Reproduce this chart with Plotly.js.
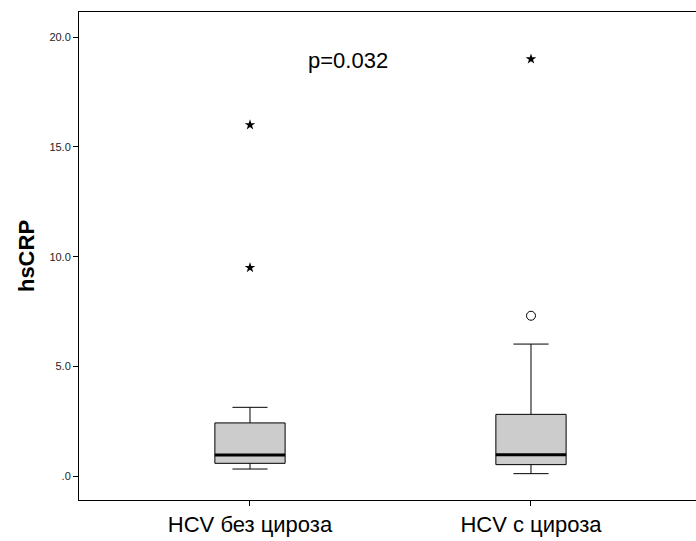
<!DOCTYPE html>
<html>
<head>
<meta charset="utf-8">
<script src="https://cdn.plot.ly/plotly-3.0.1.min.js"></script>
<style>
  html, body { margin: 0; padding: 0; background: #ffffff; }
  #chart { width: 696px; height: 541px; }
</style>
</head>
<body>
<div id="chart"></div>
<script>
// hsCRP by group: box summaries, extreme values (stars) and outliers (circles)
const groups = ["HCV без цироза", "HCV с цироза"];
const lowerWhisker = [0.33, 0.12];
const q1 = [0.59, 0.53];
const median = [0.97, 0.98];
const q3 = [2.43, 2.82];
const upperWhisker = [3.14, 6.02];
const extremeGroup = [0, 0, 1];
const extremeValues = [16.0, 9.5, 19.0];
const outlierGroup = [1];
const outlierValues = [7.31];
const yTickVals = [0, 5, 10, 15, 20];
const yTickText = [".0", "5.0", "10.0", "15.0", "20.0"];
const pLabel = "p=0.032";

const boxWidth = 0.25;
const traces = [];

groups.forEach((g, i) => {
  traces.push({
    type: "box",
    x: [i],
    q1: [q1[i]],
    median: [median[i]],
    q3: [q3[i]],
    lowerfence: [lowerWhisker[i]],
    upperfence: [upperWhisker[i]],
    width: boxWidth,
    whiskerwidth: 0.5,
    boxpoints: false,
    fillcolor: "#cccccc",
    line: { color: "#000000", width: 1 },
    hoverinfo: "skip",
    showlegend: false
  });
  // heavier median bar across the box
  traces.push({
    type: "scatter",
    mode: "lines",
    x: [i - boxWidth / 2, i + boxWidth / 2],
    y: [median[i], median[i]],
    line: { color: "#000000", width: 3 },
    hoverinfo: "skip",
    showlegend: false
  });
});

traces.push({
  type: "scatter",
  mode: "markers",
  x: extremeGroup,
  y: extremeValues,
  marker: { symbol: "star", size: 8, color: "#000000", line: { width: 0 } },
  hoverinfo: "y",
  showlegend: false
});

traces.push({
  type: "scatter",
  mode: "markers",
  x: outlierGroup,
  y: outlierValues,
  marker: { symbol: "circle-open", size: 9, color: "#000000", line: { width: 1, color: "#000000" } },
  hoverinfo: "y",
  showlegend: false
});

const layout = {
  width: 696,
  height: 541,
  margin: { l: 79, r: 0, t: 12, b: 41, pad: 0 },
  paper_bgcolor: "#ffffff",
  plot_bgcolor: "#ffffff",
  boxmode: "overlay",
  showlegend: false,
  font: { family: "Liberation Sans, Arial, sans-serif", color: "#000000" },
  xaxis: {
    range: [-0.6085, 1.5872],
    tickvals: groups.map((g, i) => i),
    ticktext: groups,
    ticks: "outside",
    ticklen: 5,
    tickcolor: "#000000",
    tickfont: { size: 22, color: "#000000" },
    showgrid: false,
    zeroline: false,
    showline: true,
    linecolor: "#000000",
    linewidth: 1,
    mirror: true
  },
  yaxis: {
    range: [-1.08, 21.14],
    tickvals: yTickVals,
    ticktext: yTickText,
    ticks: "outside",
    ticklen: 5,
    tickcolor: "#000000",
    tickfont: { size: 11, color: "#222222" },
    showgrid: false,
    zeroline: false,
    showline: true,
    linecolor: "#000000",
    linewidth: 1,
    title: { text: "<b>hsCRP</b>", font: { size: 22, color: "#000000" }, standoff: 8 }
  },
  annotations: [{
    x: 0.3505,
    y: 18.93,
    xref: "x",
    yref: "y",
    text: pLabel,
    showarrow: false,
    font: { size: 22, color: "#000000" },
    xanchor: "center",
    yanchor: "middle"
  }]
};

Plotly.newPlot("chart", traces, layout, { staticPlot: true, displayModeBar: false });
</script>
</body>
</html>
